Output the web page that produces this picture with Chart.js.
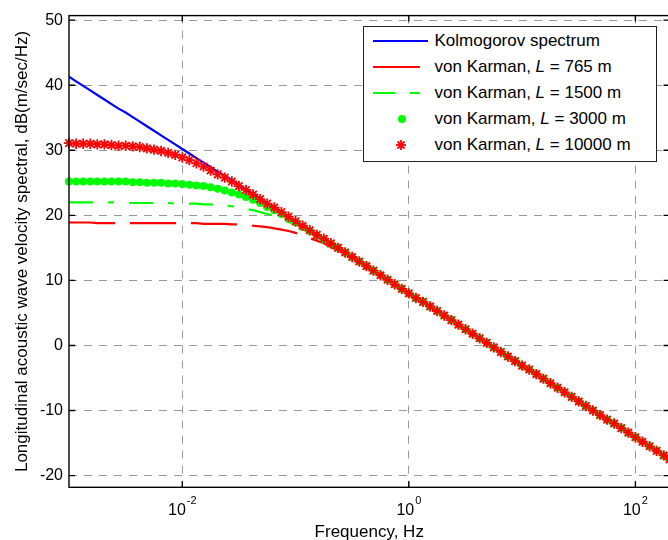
<!DOCTYPE html>
<html>
<head>
<meta charset="utf-8">
<script src="https://cdn.jsdelivr.net/npm/chart.js@4.4.1/dist/chart.umd.min.js"></script>
<style>
html, body { margin: 0; padding: 0; overflow: hidden; background: #fff; width: 668px; height: 540px; }
#wrap { position: relative; width: 680px; height: 544px; }
#chart { position: absolute; left: 0; top: 0; }
#legend { position: absolute; left: 362.5px; top: 25.5px; width: 294px; height: 136px; box-sizing: border-box;
  border: 1px solid #222; background: #fff; font-family: 'Liberation Sans', Arial, sans-serif; font-size: 17px; color: #000; }
.row { position: absolute; left: 0; width: 100%; height: 20px; }
.row .t { position: absolute; left: 71px; top: 0; line-height: 20px; white-space: nowrap; }
.seg { position: absolute; top: 9px; height: 2px; }
.dot { position: absolute; top: 6px; width: 8px; height: 8px; border-radius: 50%; background: #00ff00; }
.star { position: absolute; top: 4px; }
</style>
</head>
<body>
<div id="wrap">
  <canvas id="chart" width="680" height="544"></canvas>
  <div id="legend">
    <div class="row" style="top:4.7px"><div class="seg" style="left:9px;width:55px;background:#0000ff"></div><span class="t">Kolmogorov spectrum</span></div>
    <div class="row" style="top:30.3px"><div class="seg" style="left:9px;width:47px;background:#ff0000"></div><span class="t">von Karman, <i>L</i> = 765 m</span></div>
    <div class="row" style="top:56.3px"><div class="seg" style="left:9px;width:22px;background:#00ff00"></div><div class="seg" style="left:46px;width:10px;background:#00ff00"></div><span class="t">von Karman, <i>L</i> = 1500 m</span></div>
    <div class="row" style="top:82.3px"><div class="dot" style="left:34.3px"></div><span class="t">von Karmam, <i>L</i> = 3000 m</span></div>
    <div class="row" style="top:108px"><svg class="star" style="left:31.7px" width="12" height="12" viewBox="0 0 12 12"><g stroke="#ff0000" stroke-width="1.8"><line x1="1" y1="6" x2="11" y2="6"/><line x1="6" y1="1" x2="6" y2="11"/><line x1="2.5" y1="2.5" x2="9.5" y2="9.5"/><line x1="2.5" y1="9.5" x2="9.5" y2="2.5"/></g></svg><span class="t">von Karman, <i>L</i> = 10000 m</span></div>
  </div>
</div>
<script>
// ---- data ----
const freqHz = [
  0.001, 0.001155, 0.001334, 0.00154, 0.001778, 0.002054, 0.002371, 0.002738, 0.003162, 0.003652, 0.004217, 0.00487, 0.005623, 0.006494, 0.007499, 0.00866,
  0.01, 0.01155, 0.01334, 0.0154, 0.01778, 0.02054, 0.02371, 0.02738, 0.03162, 0.03652, 0.04217, 0.0487, 0.05623, 0.06494, 0.07499, 0.0866,
  0.1, 0.1155, 0.1334, 0.154, 0.1778, 0.2054, 0.2371, 0.2738, 0.3162, 0.3652, 0.4217, 0.487, 0.5623, 0.6494, 0.7499, 0.866,
  1, 1.155, 1.334, 1.54, 1.778, 2.054, 2.371, 2.738, 3.162, 3.652, 4.217, 4.87, 5.623, 6.494, 7.499, 8.66,
  10, 11.55, 13.34, 15.4, 17.78, 20.54, 23.71, 27.38, 31.62, 36.52, 42.17, 48.7, 56.23, 64.94, 74.99, 86.6,
  100, 115.5, 133.4, 154, 177.8, 200
];

const kolmogorov = [
  41.3, 40.6, 39.9, 39.2, 38.5, 37.8, 37.1, 36.4, 35.8, 35.1, 34.4, 33.7, 33.0, 32.3, 31.6, 30.9,
  30.2, 29.5, 28.8, 28.1, 27.4, 26.7, 26.1, 25.4, 24.7, 24.0, 23.3, 22.6, 21.9, 21.2, 20.5, 19.8,
  19.1, 18.4, 17.7, 17.0, 16.4, 15.7, 15.0, 14.3, 13.6, 12.9, 12.2, 11.5, 10.8, 10.1, 9.4, 8.7,
  8.0, 7.3, 6.7, 6.0, 5.3, 4.6, 3.9, 3.2, 2.5, 1.8, 1.1, 0.4, -0.3, -1.0, -1.7, -2.4,
  -3.1, -3.7, -4.4, -5.1, -5.8, -6.5, -7.2, -7.9, -8.6, -9.3, -10.0, -10.7, -11.4, -12.0, -12.7, -13.4,
  -14.1, -14.8, -15.5, -16.2, -16.9, -17.5
];

const vonKarman765 = [
  18.9, 18.9, 18.9, 18.9, 18.8, 18.8, 18.8, 18.8, 18.8, 18.8, 18.8, 18.8, 18.8, 18.8, 18.8, 18.8,
  18.8, 18.8, 18.8, 18.7, 18.7, 18.7, 18.7, 18.6, 18.6, 18.5, 18.4, 18.3, 18.2, 18.0, 17.8, 17.6,
  17.3, 16.9, 16.5, 16.1, 15.7, 15.1, 14.6, 14.0, 13.3, 12.7, 12.0, 11.4, 10.7, 10.0, 9.3, 8.7,
  8.0, 7.3, 6.7, 6.0, 5.3, 4.6, 3.9, 3.2, 2.5, 1.8, 1.1, 0.4, -0.3, -1.0, -1.7, -2.4,
  -3.1, -3.7, -4.4, -5.1, -5.8, -6.5, -7.2, -7.9, -8.6, -9.3, -10.0, -10.7, -11.4, -12.0, -12.7, -13.4,
  -14.1, -14.8, -15.5, -16.2, -16.9, -17.5
];

const vonKarman1500 = [
  22.0, 22.0, 22.0, 22.0, 22.0, 22.0, 22.0, 22.0, 21.9, 21.9, 21.9, 21.9, 21.9, 21.9, 21.9, 21.8,
  21.8, 21.8, 21.8, 21.7, 21.7, 21.6, 21.5, 21.4, 21.2, 21.0, 20.8, 20.5, 20.2, 19.9, 19.4, 19.0,
  18.4, 17.9, 17.3, 16.7, 16.2, 15.5, 14.9, 14.2, 13.5, 12.8, 12.2, 11.5, 10.8, 10.1, 9.4, 8.7,
  8.0, 7.3, 6.7, 6.0, 5.3, 4.6, 3.9, 3.2, 2.5, 1.8, 1.1, 0.4, -0.3, -1.0, -1.7, -2.4,
  -3.1, -3.7, -4.4, -5.1, -5.8, -6.5, -7.2, -7.9, -8.6, -9.3, -10.0, -10.7, -11.4, -12.0, -12.7, -13.4,
  -14.1, -14.8, -15.5, -16.2, -16.9, -17.5
];

const vonKarman3000 = [
  25.2, 25.2, 25.2, 25.2, 25.2, 25.2, 25.2, 25.2, 25.2, 25.1, 25.1, 25.0, 25.0, 25.0, 24.9, 24.9,
  24.8, 24.7, 24.6, 24.5, 24.3, 24.1, 23.8, 23.5, 23.2, 22.8, 22.4, 21.9, 21.3, 20.8, 20.2, 19.5,
  18.9, 18.2, 17.6, 16.9, 16.3, 15.6, 15.0, 14.3, 13.6, 12.9, 12.2, 11.5, 10.8, 10.1, 9.4, 8.7,
  8.0, 7.3, 6.7, 6.0, 5.3, 4.6, 3.9, 3.2, 2.5, 1.8, 1.1, 0.4, -0.3, -1.0, -1.7, -2.4,
  -3.1, -3.7, -4.4, -5.1, -5.8, -6.5, -7.2, -7.9, -8.6, -9.3, -10.0, -10.7, -11.4, -12.0, -12.7, -13.4,
  -14.1, -14.8, -15.5, -16.2, -16.9, -17.5
];

const vonKarman10000 = [
  31.1, 31.0, 31.0, 31.0, 30.9, 30.9, 30.8, 30.7, 30.7, 30.6, 30.5, 30.3, 30.1, 29.9, 29.6, 29.3,
  28.9, 28.5, 28.0, 27.5, 26.9, 26.3, 25.8, 25.2, 24.5, 23.9, 23.2, 22.5, 21.8, 21.2, 20.5, 19.8,
  19.1, 18.4, 17.7, 17.0, 16.4, 15.7, 15.0, 14.3, 13.6, 12.9, 12.2, 11.5, 10.8, 10.1, 9.4, 8.7,
  8.0, 7.3, 6.7, 6.0, 5.3, 4.6, 3.9, 3.2, 2.5, 1.8, 1.1, 0.4, -0.3, -1.0, -1.7, -2.4,
  -3.1, -3.7, -4.4, -5.1, -5.8, -6.5, -7.2, -7.9, -8.6, -9.3, -10.0, -10.7, -11.4, -12.0, -12.7, -13.4,
  -14.1, -14.8, -15.5, -16.2, -16.9, -17.5
];

const xTickValues = [0.01, 1, 100];
const xTickExponents = ['-2', '0', '2'];
const yTickValues = [-20, -10, 0, 10, 20, 30, 40, 50];

const seriesLabels = ['Kolmogorov spectrum', 'von Karman, L = 765 m', 'von Karman, L = 1500 m', 'von Karmam, L = 3000 m', 'von Karman, L = 10000 m'];

// ---- chart ----
const FONT = "'Liberation Sans', Arial, Helvetica, sans-serif";
const pts = arr => freqHz.map((f, i) => ({ x: f, y: arr[i] }));

const matlabAxes = {
  id: 'matlabAxes',
  afterDraw(chart) {
    const { ctx, chartArea: a, scales: { x, y } } = chart;
    ctx.save();
    ctx.strokeStyle = '#000';
    ctx.lineWidth = 1.4;
    ctx.setLineDash([]);
    ctx.strokeRect(a.left, a.top, a.right - a.left, a.bottom - a.top);
    ctx.beginPath();
    xTickValues.forEach(v => {
      const px = x.getPixelForValue(v);
      ctx.moveTo(px, a.bottom); ctx.lineTo(px, a.bottom - 6);
      ctx.moveTo(px, a.top); ctx.lineTo(px, a.top + 6);
    });
    yTickValues.forEach(v => {
      const py = y.getPixelForValue(v);
      ctx.moveTo(a.left, py); ctx.lineTo(a.left + 6, py);
      ctx.moveTo(a.right, py); ctx.lineTo(a.right - 6, py);
    });
    ctx.stroke();
    ctx.fillStyle = '#000';
    ctx.textAlign = 'left';
    ctx.textBaseline = 'alphabetic';
    xTickValues.forEach((v, i) => {
      const px = x.getPixelForValue(v);
      ctx.font = '16px ' + FONT;
      const wb = ctx.measureText('10').width;
      ctx.font = '11px ' + FONT;
      const we = ctx.measureText(xTickExponents[i]).width;
      const x0 = px - (wb + 1 + we) / 2;
      ctx.font = '16px ' + FONT;
      ctx.fillText('10', x0, a.bottom + 28);
      ctx.font = '11px ' + FONT;
      ctx.fillText(xTickExponents[i], x0 + wb + 1, a.bottom + 16.5);
    });
    ctx.restore();
  }
};

const gridOpts = { color: '#9a9a9a', lineWidth: 1, drawTicks: false };
const borderOpts = { display: false, dash: [8, 7] };

new Chart(document.getElementById('chart'), {
  type: 'line',
  data: {
    datasets: [
      { label: seriesLabels[0], data: pts(kolmogorov), borderColor: '#0000ff', backgroundColor: '#0000ff',
        borderWidth: 2.2, pointRadius: 0, fill: false, order: 5 },
      { label: seriesLabels[1], data: pts(vonKarman765), borderColor: '#ff0000', backgroundColor: '#ff0000',
        borderWidth: 2.2, borderDash: [46, 15], pointRadius: 0, fill: false, order: 4 },
      { label: seriesLabels[2], data: pts(vonKarman1500), borderColor: '#00ff00', backgroundColor: '#00ff00',
        borderWidth: 2.2, borderDash: [24, 15, 6, 15], pointRadius: 0, fill: false, order: 3 },
      { label: seriesLabels[3], data: pts(vonKarman3000), showLine: false, pointStyle: 'circle', pointRadius: 4,
        pointBackgroundColor: '#00ff00', pointBorderColor: '#00ff00', pointBorderWidth: 0,
        borderColor: '#00ff00', backgroundColor: '#00ff00', order: 2, clip: 8 },
      { label: seriesLabels[4], data: pts(vonKarman10000), showLine: false, pointStyle: 'star', pointRadius: 5.2,
        pointBackgroundColor: '#ff0000', pointBorderColor: '#ff0000', pointBorderWidth: 1.8,
        borderColor: '#ff0000', backgroundColor: '#ff0000', order: 1, clip: 8 }
    ]
  },
  options: {
    responsive: false,
    animation: false,
    devicePixelRatio: 1,
    layout: { padding: { left: 0, right: 10.5, top: 15, bottom: 0 } },
    plugins: { legend: { display: false }, tooltip: { enabled: false } },
    elements: { line: { tension: 0 } },
    scales: {
      x: {
        type: 'logarithmic', min: 0.001, max: 200,
        afterBuildTicks: s => { s.ticks = xTickValues.map(v => ({ value: v })); },
        afterFit: s => { s.height = 56.7; },
        ticks: { display: false },
        grid: gridOpts,
        border: borderOpts,
        title: { display: true, text: 'Frequency, Hz', color: '#000',
          font: { family: FONT, size: 17, lineHeight: 1.2 }, padding: { top: 0, bottom: 1.7 } }
      },
      y: {
        type: 'linear', min: -21.8, max: 50.7,
        afterBuildTicks: s => { s.ticks = yTickValues.map(v => ({ value: v })); },
        afterFit: s => { s.width = 69; },
        ticks: { color: '#000', font: { family: FONT, size: 16 }, padding: 6 },
        grid: gridOpts,
        border: borderOpts,
        title: { display: true, text: 'Longitudinal acoustic wave velocity spectral, dB(m/sec/Hz)', color: '#000',
          font: { family: FONT, size: 17, lineHeight: 1.2 }, padding: { top: 12, bottom: 0 } }
      }
    }
  },
  plugins: [matlabAxes]
});
</script>
</body>
</html>
